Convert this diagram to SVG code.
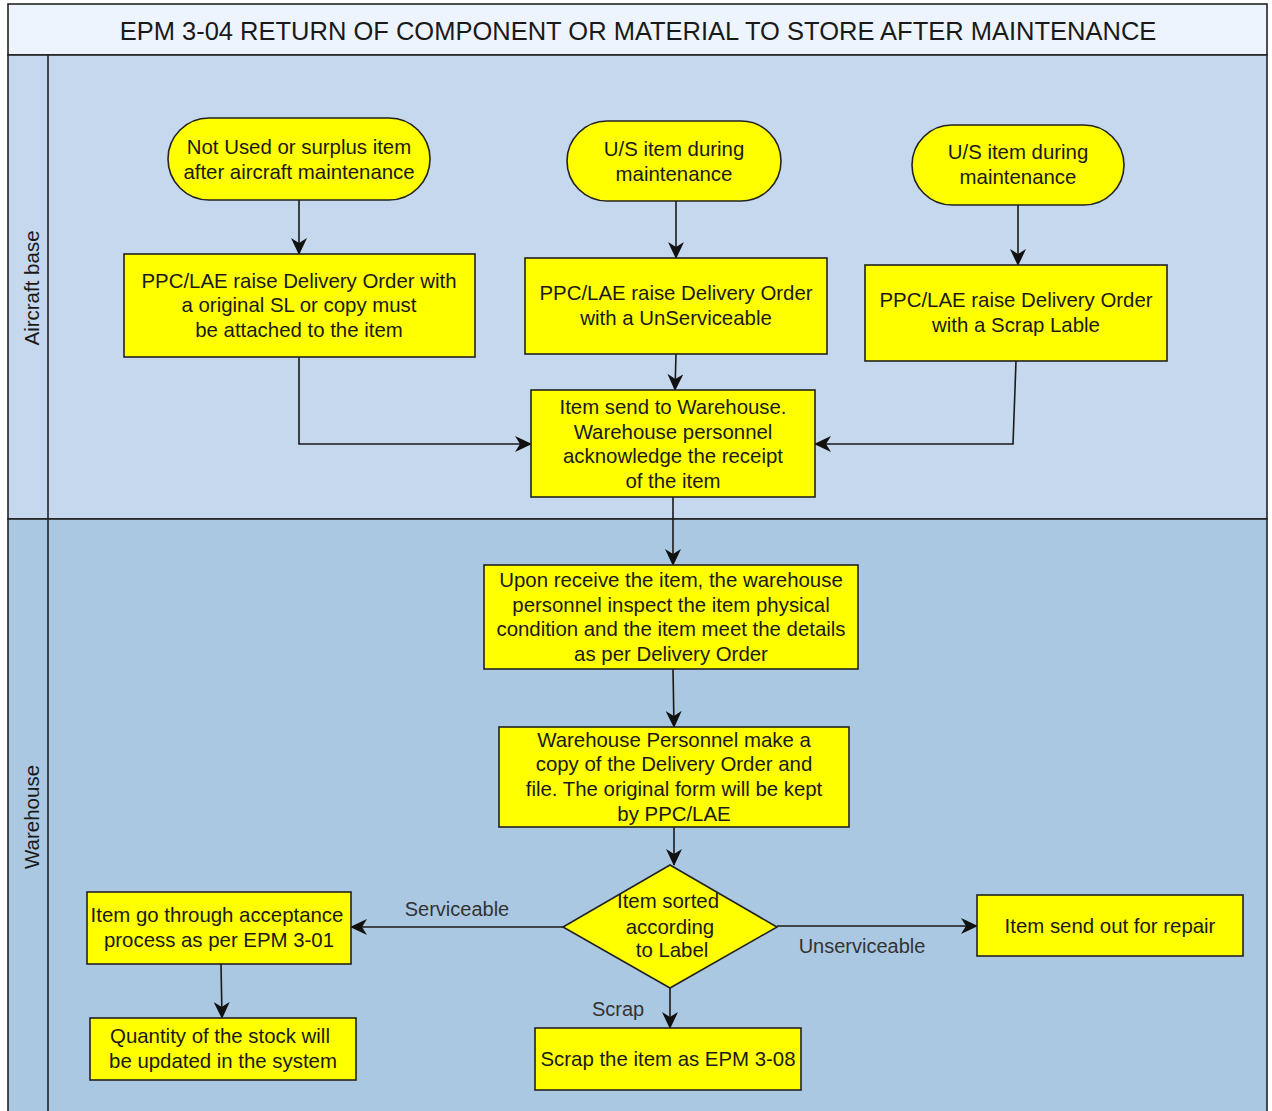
<svg xmlns="http://www.w3.org/2000/svg" width="1272" height="1111" viewBox="0 0 1272 1111">
<style>
text{font-family:"Liberation Sans",Arial,sans-serif;fill:#1a1a1a;}
.n{font-size:20.4px;text-anchor:middle;}
.lbl{font-size:20px;text-anchor:middle;fill:#333;}
.shape{fill:#ffff00;stroke:#222;stroke-width:1.6;}
.c{fill:none;stroke:#1a1a1a;stroke-width:1.6;}
.lane{stroke:#222;stroke-width:1.6;}
</style>
<defs>
<marker id="ah" viewBox="0 0 17 16" refX="16" refY="8" markerWidth="17" markerHeight="16" markerUnits="userSpaceOnUse" orient="auto">
<path d="M0,0 L17,8 L0,16 L5,8 Z" fill="#111"/>
</marker>
</defs>
<g id="pool">
<rect x="8" y="4" width="1259" height="51" fill="#eef4fd" class="lane"/>
<rect x="8" y="55" width="1259" height="464" fill="#c5d8ed" class="lane"/>
<rect x="8" y="519" width="1259" height="600" fill="#aac8e2" class="lane"/>
<line x1="48" y1="55" x2="48" y2="1111" class="lane"/>
<text x="638" y="40" font-size="25.5" text-anchor="middle" fill="#222">EPM 3-04 RETURN OF COMPONENT OR MATERIAL TO STORE AFTER MAINTENANCE</text>
<text transform="translate(39,288) rotate(-90)" font-size="20.5" text-anchor="middle" fill="#333">Aircraft base</text>
<text transform="translate(39,817) rotate(-90)" font-size="20.5" text-anchor="middle" fill="#333">Warehouse</text>
</g>
<g id="connectors">
<path class="c" d="M299,200 L299,254" marker-end="url(#ah)"/>
<path class="c" d="M676,201 L676,258" marker-end="url(#ah)"/>
<path class="c" d="M1018,205 L1018,265" marker-end="url(#ah)"/>
<path class="c" d="M299,357 L299,444 L531,444" marker-end="url(#ah)"/>
<path class="c" d="M676,354 L675,390" marker-end="url(#ah)"/>
<path class="c" d="M1016,361 L1013,444 L815,444" marker-end="url(#ah)"/>
<path class="c" d="M673,497 L673,565" marker-end="url(#ah)"/>
<path class="c" d="M673,669 L674,727" marker-end="url(#ah)"/>
<path class="c" d="M674,827 L674,865" marker-end="url(#ah)"/>
<path class="c" d="M563,927 L351,927" marker-end="url(#ah)"/>
<path class="c" d="M777,926 L977,926" marker-end="url(#ah)"/>
<path class="c" d="M670,988 L670,1028" marker-end="url(#ah)"/>
<path class="c" d="M221,964 L222,1018" marker-end="url(#ah)"/>
<text class="lbl" x="457" y="916">Serviceable</text>
<text class="lbl" x="862" y="953">Unserviceable</text>
<text class="lbl" x="618" y="1016">Scrap</text>
</g>
<g id="start1">
<rect class="shape" x="168" y="118" width="262" height="82" rx="41"/>
<text class="n" x="299" y="154">Not Used or surplus item</text>
<text class="n" x="299" y="179">after aircraft maintenance</text>
</g>
<g id="start2">
<rect class="shape" x="567" y="121" width="214" height="80" rx="40"/>
<text class="n" x="674" y="156">U/S item during</text>
<text class="n" x="674" y="181">maintenance</text>
</g>
<g id="start3">
<rect class="shape" x="912" y="125" width="212" height="80" rx="40"/>
<text class="n" x="1018" y="159">U/S item during</text>
<text class="n" x="1018" y="184">maintenance</text>
</g>
<g id="do1">
<rect class="shape" x="124" y="254" width="351" height="103"/>
<text class="n" x="299" y="288">PPC/LAE raise Delivery Order with</text>
<text class="n" x="299" y="312">a original SL or copy must</text>
<text class="n" x="299" y="337">be attached to the item</text>
</g>
<g id="do2">
<rect class="shape" x="525" y="258" width="302" height="96"/>
<text class="n" x="676" y="300">PPC/LAE raise Delivery Order</text>
<text class="n" x="676" y="325">with a UnServiceable</text>
</g>
<g id="do3">
<rect class="shape" x="865" y="265" width="302" height="96"/>
<text class="n" x="1016" y="307">PPC/LAE raise Delivery Order</text>
<text class="n" x="1016" y="332">with a Scrap Lable</text>
</g>
<g id="send">
<rect class="shape" x="531" y="390" width="284" height="107"/>
<text class="n" x="673" y="414">Item send to Warehouse.</text>
<text class="n" x="673" y="439">Warehouse personnel</text>
<text class="n" x="673" y="463">acknowledge the receipt</text>
<text class="n" x="673" y="488">of the item</text>
</g>
<g id="inspect">
<rect class="shape" x="484" y="565" width="374" height="104"/>
<text class="n" x="671" y="587">Upon receive the item, the warehouse</text>
<text class="n" x="671" y="612">personnel inspect the item physical</text>
<text class="n" x="671" y="636">condition and the item meet the details</text>
<text class="n" x="671" y="661">as per Delivery Order</text>
</g>
<g id="copy">
<rect class="shape" x="499" y="727" width="350" height="100"/>
<text class="n" x="674" y="747">Warehouse Personnel make a</text>
<text class="n" x="674" y="771">copy of the Delivery Order and</text>
<text class="n" x="674" y="796">file. The original form will be kept</text>
<text class="n" x="674" y="821">by PPC/LAE</text>
</g>
<g id="sort">
<polygon class="shape" points="670,865 777,927 670,988 563,927"/>
<text class="n" x="668" y="908">Item sorted</text>
<text class="n" x="670" y="934">according</text>
<text class="n" x="672" y="957">to Label</text>
</g>
<g id="accept">
<rect class="shape" x="87" y="892" width="264" height="72"/>
<text class="n" x="217" y="922">Item go through acceptance</text>
<text class="n" x="219" y="947">process as per EPM 3-01</text>
</g>
<g id="quantity">
<rect class="shape" x="90" y="1018" width="266" height="62"/>
<text class="n" x="220" y="1043">Quantity of the stock will</text>
<text class="n" x="223" y="1068">be updated in the system</text>
</g>
<g id="scrap">
<rect class="shape" x="535" y="1028" width="266" height="62"/>
<text class="n" x="668" y="1066">Scrap the item as EPM 3-08</text>
</g>
<g id="repair">
<rect class="shape" x="977" y="895" width="266" height="61"/>
<text class="n" x="1110" y="933">Item send out for repair</text>
</g>
</svg>
